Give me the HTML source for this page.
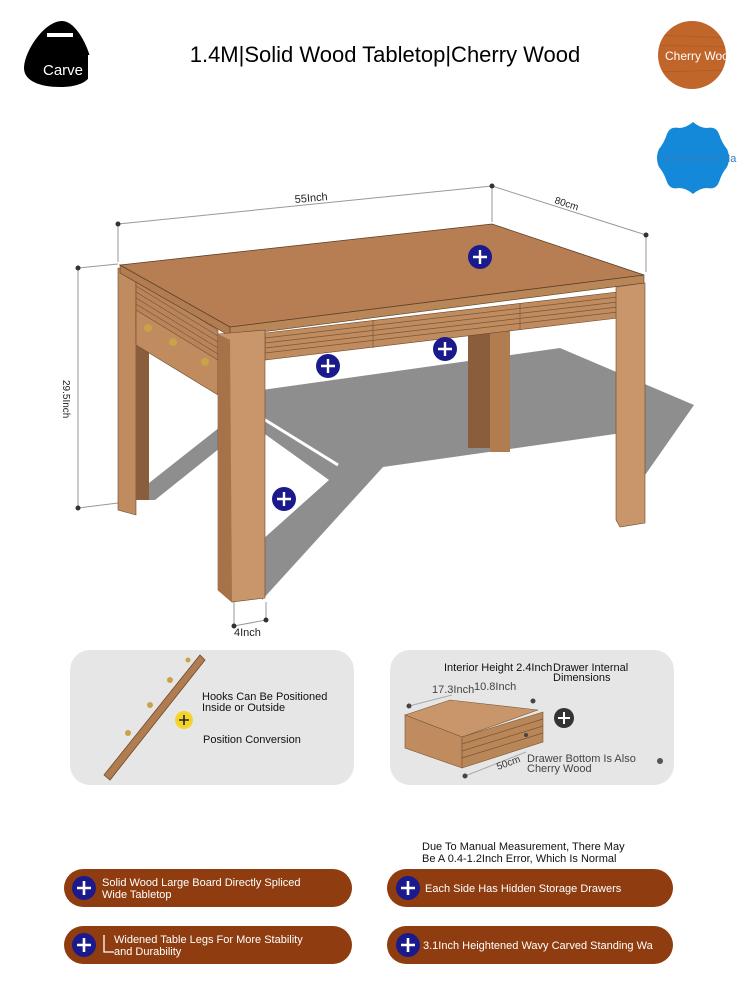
<!DOCTYPE html>
<html><head><meta charset="utf-8"><style>
body{margin:0;background:#fff;width:750px;height:1000px;overflow:hidden;font-family:"Liberation Sans",sans-serif;}
svg text{font-family:"Liberation Sans",sans-serif;}
</style></head><body>
<svg width="750" height="1000" viewBox="0 0 750 1000" xmlns="http://www.w3.org/2000/svg">
<defs>
<clipPath id="c1"><circle cx="692" cy="55" r="34"/></clipPath>
</defs>
<!-- top-left badge -->
<path d="M62 21 C78 21 92 55 92 68 C92 82 78 87 60 87 C40 87 24 81 24 68 C24 52 44 21 62 21Z" fill="#000"/>
<rect x="47" y="33" width="26" height="4" fill="#fff"/>
<text x="43" y="75" font-size="15" fill="#fff">Carve</text>
<rect x="88" y="55" width="10" height="33" fill="#fff"/>
<text x="385" y="62" font-size="22" text-anchor="middle" fill="#000">1.4M|Solid Wood Tabletop|Cherry Wood</text>
<!-- cherry circle -->
<circle cx="692" cy="55" r="34" fill="#c0662a"/>
<g clip-path="url(#c1)" stroke="#a9551f" stroke-width="1" opacity=".6"><line x1="655" y1="35" x2="730" y2="38"/><line x1="655" y1="72" x2="730" y2="70"/><line x1="655" y1="45" x2="730" y2="47"/></g>
<text x="665" y="60" font-size="12" fill="#fff">Cherry Woo</text>
<rect x="727" y="40" width="23" height="30" fill="#fff"/>
<!-- blue star -->
<path d="M693 122 Q700 128 707 128 Q716 126 719 134 Q722 143 727 149 Q731 158 727 167 Q722 173 719 182 Q716 190 707 188 Q700 188 693 194 Q686 188 679 188 Q670 190 667 182 Q664 173 659 167 Q655 158 659 149 Q664 143 667 134 Q670 126 679 128 Q686 128 693 122Z" fill="#1589d9"/>
<text x="660" y="162" font-size="11" fill="#2c7fc4">No Auxiliary Ma</text>

<!-- dimension lines -->
<g stroke="#999" stroke-width="1" fill="none">
<line x1="118" y1="224" x2="492" y2="186"/>
<line x1="492" y1="186" x2="646" y2="235"/>
<line x1="118" y1="224" x2="118" y2="262"/>
<line x1="492" y1="186" x2="492" y2="222"/>
<line x1="646" y1="235" x2="646" y2="272"/>
<line x1="78" y1="268" x2="78" y2="508"/>
<line x1="78" y1="268" x2="118" y2="264"/>
<line x1="78" y1="508" x2="118" y2="503"/>
<line x1="234" y1="602" x2="234" y2="628"/>
<line x1="266" y1="602" x2="266" y2="622"/>
<line x1="234" y1="626" x2="266" y2="620"/>
</g>
<g fill="#333"><circle cx="118" cy="224" r="2.5"/><circle cx="492" cy="186" r="2.5"/><circle cx="646" cy="235" r="2.5"/><circle cx="78" cy="268" r="2.5"/><circle cx="78" cy="508" r="2.5"/><circle cx="234" cy="626" r="2.5"/><circle cx="266" cy="620" r="2.5"/></g>
<text x="295" y="203" font-size="11" fill="#222" transform="rotate(-5 295 203)">55Inch</text>
<text x="554" y="203" font-size="10" fill="#222" transform="rotate(18 554 203)">80cm</text>
<text x="63" y="380" font-size="10" fill="#222" transform="rotate(90 63 380)">29.5Inch</text>
<text x="234" y="636" font-size="11" fill="#222">4Inch</text>

<!-- shadow -->
<path d="M262 390 L560 348 L694 405 L643 478 L643 430 L383 467 L262 600 L262 540 L329 480 L262 432Z" fill="#8e8e8e"/>
<line x1="262" y1="418" x2="338" y2="465" stroke="#fff" stroke-width="3"/>
<path d="M149 483 L220 427 L220 448 L155 500 L149 500Z" fill="#8e8e8e"/>
<!-- back-left leg -->
<path d="M118 268 L136 275 L136 515 L118 510Z" fill="#c08c5f" stroke="#6b4a2e" stroke-width=".6"/>
<rect x="136" y="300" width="13" height="200" fill="#8a5e3c"/>
<!-- back middle leg -->
<rect x="468" y="328" width="22" height="120" fill="#8a5e3c"/>
<rect x="490" y="328" width="20" height="124" fill="#b07c50"/>
<!-- left apron with hooks -->
<path d="M136 280 L218 330 L218 380 L136 330Z" fill="#b9845a" stroke="#6b4a2e" stroke-width=".6"/>
<g stroke="#7a5636" stroke-width=".7">
<line x1="136" y1="286" x2="218" y2="336"/><line x1="136" y1="292" x2="218" y2="342"/><line x1="136" y1="298" x2="218" y2="348"/><line x1="136" y1="304" x2="218" y2="354"/>
</g>
<path d="M136 310 L218 360 L218 395 L136 345Z" fill="#c08c5f" stroke="#6b4a2e" stroke-width=".6"/>
<circle cx="148" cy="328" r="4" fill="#c9a24a"/><circle cx="173" cy="342" r="4" fill="#c9a24a"/><circle cx="205" cy="362" r="4" fill="#c9a24a"/>
<!-- front apron -->
<path d="M265 333 L618 292 L618 318 L265 360Z" fill="#c08c5f" stroke="#6b4a2e" stroke-width=".6"/>
<g stroke="#7a5636" stroke-width=".7">
<line x1="265" y1="338" x2="618" y2="297"/><line x1="265" y1="343" x2="618" y2="302"/><line x1="265" y1="348" x2="618" y2="307"/><line x1="265" y1="353" x2="618" y2="312"/>
<line x1="373" y1="320" x2="373" y2="348"/><line x1="520" y1="303" x2="520" y2="330"/>
</g>
<!-- tabletop -->
<path d="M120 265 L230 327 L230 336 L120 273Z" fill="#b07c50" stroke="#5a3e25" stroke-width=".6"/>
<path d="M230 327 L644 275 L644 283 L230 336Z" fill="#b98658" stroke="#5a3e25" stroke-width=".6"/>
<path d="M120 265 L492 224 L644 275 L230 327Z" fill="#b67e52" stroke="#5a3e25" stroke-width=".8"/>
<!-- front legs -->
<path d="M218 334 L265 330 L265 598 L232 602 L218 590Z" fill="#c8966a" stroke="#6b4a2e" stroke-width=".6"/>
<path d="M218 334 L230 340 L232 602 L218 590Z" fill="#a87248"/>
<path d="M616 287 L645 283 L645 523 L620 527 L616 520Z" fill="#c8966a" stroke="#6b4a2e" stroke-width=".6"/>
<!-- plus markers -->
<g>
<circle cx="480" cy="257" r="12" fill="#1a1a8c"/><circle cx="328" cy="366" r="12" fill="#1a1a8c"/><circle cx="445" cy="349" r="12" fill="#1a1a8c"/><circle cx="284" cy="499" r="12" fill="#1a1a8c"/>
</g>
<g stroke="#fff" stroke-width="2.4"><path d="M473 257h14M480 250v14M321 366h14M328 359v14M438 349h14M445 342v14M277 499h14M284 492v14"/></g>

<!-- panels -->
<rect x="70" y="650" width="284" height="135" rx="20" fill="#e6e6e6"/>
<rect x="390" y="650" width="284" height="135" rx="20" fill="#e6e6e6"/>
<path d="M104 775 L200 655 L205 660 L110 780Z" fill="#b07c50" stroke="#6b4a2e" stroke-width=".8"/>
<circle cx="128" cy="733" r="3" fill="#c9a24a"/><circle cx="150" cy="705" r="3" fill="#c9a24a"/><circle cx="170" cy="680" r="3" fill="#c9a24a"/><circle cx="188" cy="660" r="2.5" fill="#c9a24a"/>
<circle cx="184" cy="720" r="9" fill="#f5d42a"/>
<path d="M179 720h10M184 715v10" stroke="#222" stroke-width="1.6"/>
<text x="202" y="700" font-size="11" fill="#111">Hooks Can Be Positioned</text>
<text x="202" y="711" font-size="11" fill="#111">Inside or Outside</text>
<text x="203" y="743" font-size="11" fill="#111">Position Conversion</text>
<!-- drawer -->
<path d="M405 715 L450 700 L538 710 L462 737Z" fill="#c8966a" stroke="#7a5636" stroke-width=".6"/>
<path d="M405 715 L462 737 L462 768 L405 748Z" fill="#c08c5f" stroke="#7a5636" stroke-width=".6"/>
<path d="M462 737 L543 712 L543 742 L462 768Z" fill="#b98658" stroke="#7a5636" stroke-width=".6"/>
<g stroke="#7a5636" stroke-width=".7"><line x1="462" y1="744" x2="543" y2="719"/><line x1="462" y1="751" x2="543" y2="726"/><line x1="462" y1="758" x2="543" y2="733"/></g>
<g stroke="#aaa" stroke-width="1"><line x1="409" y1="706" x2="452" y2="695"/><line x1="465" y1="776" x2="526" y2="752"/></g>
<g fill="#444"><circle cx="409" cy="706" r="2.5"/><circle cx="533" cy="701" r="2.5"/><circle cx="465" cy="776" r="2.5"/><circle cx="526" cy="735" r="2"/></g>
<text x="444" y="671" font-size="11" fill="#111">Interior Height 2.4Inch</text>
<text x="553" y="671" font-size="11" fill="#111">Drawer Internal</text>
<text x="553" y="681" font-size="11" fill="#111">Dimensions</text>
<text x="432" y="693" font-size="11" fill="#444">17.3Inch</text>
<text x="474" y="690" font-size="11" fill="#444">10.8Inch</text>
<text x="498" y="770" font-size="10" fill="#333" transform="rotate(-20 498 770)">50cm</text>
<circle cx="564" cy="718" r="10" fill="#333"/>
<path d="M558 718h12M564 712v12" stroke="#fff" stroke-width="2"/>
<text x="527" y="762" font-size="11" fill="#444">Drawer Bottom Is Also</text>
<text x="527" y="772" font-size="11" fill="#444">Cherry Wood</text>
<circle cx="660" cy="761" r="3" fill="#555"/>

<!-- bottom note -->
<text x="422" y="850" font-size="11" fill="#111">Due To Manual Measurement, There May</text>
<text x="422" y="862" font-size="11" fill="#111">Be A 0.4-1.2Inch Error, Which Is Normal</text>
<!-- pills -->
<g>
<rect x="64" y="869" width="288" height="38" rx="19" fill="#8f3d10"/>
<rect x="387" y="869" width="286" height="38" rx="19" fill="#8f3d10"/>
<rect x="64" y="926" width="288" height="38" rx="19" fill="#8f3d10"/>
<rect x="387" y="926" width="286" height="38" rx="19" fill="#8f3d10"/>
<circle cx="84" cy="888" r="12" fill="#1a1a8c"/><circle cx="408" cy="888" r="12" fill="#1a1a8c"/>
<circle cx="84" cy="945" r="12" fill="#1a1a8c"/><circle cx="408" cy="945" r="12" fill="#1a1a8c"/>
<g stroke="#fff" stroke-width="2.6"><path d="M77 888h14M84 881v14M401 888h14M408 881v14M77 945h14M84 938v14M401 945h14M408 938v14"/></g>
</g>
<g font-size="11" fill="#fff">
<text x="102" y="886">Solid Wood Large Board Directly Spliced</text>
<text x="102" y="898">Wide Tabletop</text>
<text x="425" y="892">Each Side Has Hidden Storage Drawers</text>
<text x="114" y="943">Widened Table Legs For More Stability</text>
<text x="114" y="955">and Durability</text>
<text x="423" y="949">3.1Inch Heightened Wavy Carved Standing Wa</text>
</g>
<path d="M104 935 V952 H114" stroke="#fff" stroke-width="1.3" fill="none"/>
</svg>
</body></html>
